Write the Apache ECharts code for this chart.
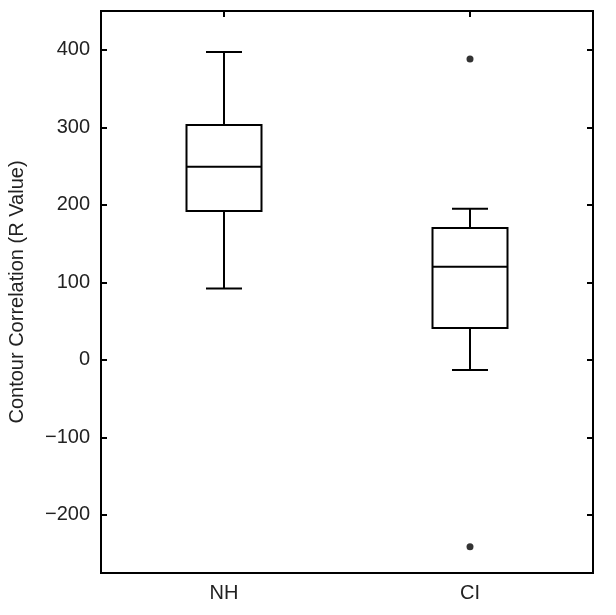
<!DOCTYPE html>
<html>
<head>
<meta charset="utf-8">
<script src="https://cdn.jsdelivr.net/npm/echarts@6/dist/echarts.min.js"></script>
<style>
  html, body { margin: 0; padding: 0; background: #fff; }
  #main { width: 616px; height: 615px; }
</style>
</head>
<body>
<div id="main"></div>
<script>
// groups and box stats: [lower whisker, Q1, median, Q3, upper whisker]
var groups = ['NH', 'CI'];
var boxStats = [
    [92, 192, 249, 303, 397],
    [-13, 41, 120, 170, 195]
];
// outliers: [group index, value]
var outliers = [[1, 388], [1, -241]];
var yMin = -275, yMax = 450;

var myChart = echarts.init(document.getElementById('main'));

function renderBox(params, api) {
    var idx = api.value(0);
    var lo = api.coord([idx, api.value(1)]);
    var q1 = api.coord([idx, api.value(2)]);
    var med = api.coord([idx, api.value(3)]);
    var q3 = api.coord([idx, api.value(4)]);
    var hi = api.coord([idx, api.value(5)]);
    var x = lo[0];
    var half = 37.5;   // box half width
    var cap = 18;      // whisker cap half width
    var st = { stroke: '#000', lineWidth: 2, fill: null };
    return {
        type: 'group',
        children: [
            { type: 'line', shape: { x1: x, y1: hi[1], x2: x, y2: q3[1] }, style: st },
            { type: 'line', shape: { x1: x, y1: q1[1], x2: x, y2: lo[1] }, style: st },
            { type: 'line', shape: { x1: x - cap, y1: hi[1], x2: x + cap, y2: hi[1] }, style: st },
            { type: 'line', shape: { x1: x - cap, y1: lo[1], x2: x + cap, y2: lo[1] }, style: st },
            { type: 'rect', shape: { x: x - half, y: q3[1], width: half * 2, height: q1[1] - q3[1] }, style: { stroke: '#000', lineWidth: 2, fill: '#fff' } },
            { type: 'line', shape: { x1: x - half, y1: med[1], x2: x + half, y2: med[1] }, style: st }
        ]
    };
}

var boxData = boxStats.map(function (s, i) {
    return [i].concat(s);
});

var lineSt = { color: '#000', width: 2 };
var labelFont = { color: '#222', fontSize: 20, fontFamily: 'Liberation Sans' };

var option = {
    animation: false,
    backgroundColor: '#fff',
    grid: {
        left: 101,
        right: 23,
        top: 11,
        bottom: 42,
        outerBoundsMode: 'none',
        containLabel: false,
        show: true,
        borderColor: '#000',
        borderWidth: 2
    },
    xAxis: [{
        type: 'category',
        data: groups,
        position: 'bottom',
        axisLine: { onZero: false, lineStyle: lineSt },
        axisTick: { inside: true, length: 6, alignWithLabel: true, lineStyle: lineSt },
        axisLabel: Object.assign({ margin: 10 }, labelFont),
        splitLine: { show: false }
    }, {
        type: 'category',
        data: groups,
        position: 'top',
        axisLine: { onZero: false, lineStyle: lineSt },
        axisTick: { show: true, inside: true, length: 6, alignWithLabel: true, lineStyle: lineSt },
        axisLabel: { show: false },
        splitLine: { show: false }
    }],
    yAxis: [{
        type: 'value',
        min: yMin,
        max: yMax,
        splitNumber: 7,
        position: 'left',
        name: 'Contour Correlation (R Value)',
        nameLocation: 'middle',
        nameGap: 74,
        nameTextStyle: { color: '#222', fontSize: 20, fontFamily: 'Liberation Sans' },
        axisLine: { show: true, onZero: false, lineStyle: lineSt },
        axisTick: { show: true, inside: true, length: 6, lineStyle: lineSt },
        axisLabel: Object.assign({ margin: 11, showMinLabel: false, showMaxLabel: false,
            formatter: function (v) { return v < 0 ? '\u2212' + Math.abs(v) : String(v); } }, labelFont),
        splitLine: { show: false }
    }, {
        type: 'value',
        min: yMin,
        max: yMax,
        splitNumber: 7,
        position: 'right',
        axisLine: { show: true, onZero: false, lineStyle: lineSt },
        axisTick: { show: true, inside: true, length: 6, lineStyle: lineSt },
        axisLabel: { show: false },
        splitLine: { show: false }
    }],
    series: [{
        type: 'custom',
        renderItem: renderBox,
        encode: { x: 0, y: [1, 2, 3, 4, 5] },
        data: boxData
    }, {
        type: 'scatter',
        symbol: 'circle',
        symbolSize: 7,
        itemStyle: { color: '#000' },
        data: outliers
    }]
};

myChart.setOption(option);
</script>
</body>
</html>
